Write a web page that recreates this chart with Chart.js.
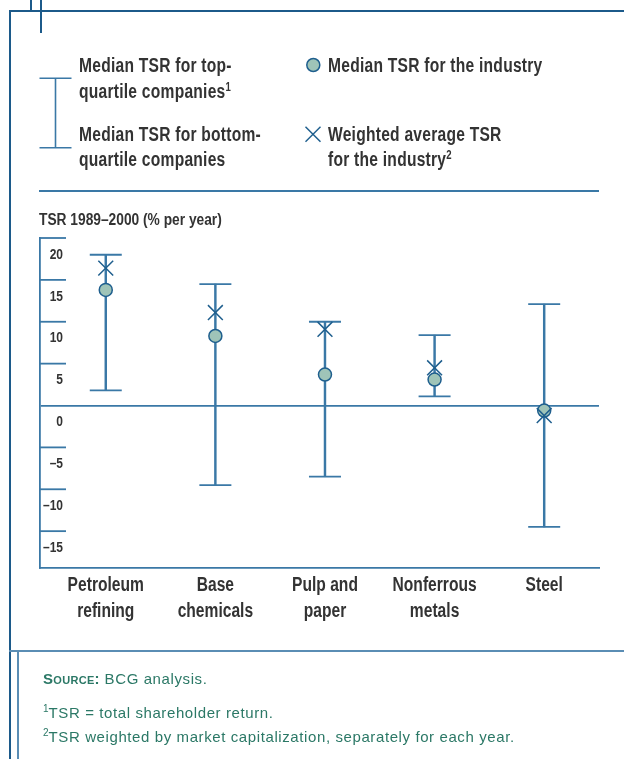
<!DOCTYPE html>
<html>
<head>
<meta charset="utf-8">
<script src="https://cdn.jsdelivr.net/npm/chart.js@4.4.1/dist/chart.umd.min.js"></script>
<style>
  body { margin: 0; background: #fff; }
  #page { position: relative; width: 624px; height: 759px; overflow: hidden; }
  #chart { position: absolute; left: 0; top: 0; }
  .line { position: absolute; background: #1c5a8a; }
  .narrow { font-family: "Liberation Sans", Arial, sans-serif; font-weight: bold; color: #333;
            transform: scaleX(0.8); transform-origin: 0 50%; }
  .lg { position: absolute; font-size: 19.5px; letter-spacing: 0.3px; white-space: nowrap; }
  .sup { font-size: 12px; position: relative; top: -7px; }
  .note { position: absolute; left: 43px; font-family: "Liberation Sans", Arial, sans-serif; font-size: 15px;
          letter-spacing: 0.6px; color: #2b7866; white-space: nowrap; }
  .note .sup { font-size: 10px; top: -6px; letter-spacing: 0; }
</style>
</head>
<body>
<div id="page">
  <canvas id="chart" width="624" height="759"></canvas>

  <!-- frame -->
  <div class="line" style="left:9px; top:10px; width:615px; height:1.5px;"></div>
  <div class="line" style="left:9px; top:10px; width:1.5px; height:749px;"></div>
  <div class="line" style="left:30px; top:0; width:1.5px; height:10px;"></div>
  <div class="line" style="left:40px; top:0; width:1.5px; height:33px;"></div>
  <div class="line" style="left:39px; top:190px; width:560px; height:1.5px; background:#3a78a6;"></div>
  <div class="line" style="left:9px; top:650px; width:615px; height:2px; background:#5a8db4;"></div>
  <div class="line" style="left:17px; top:650px; width:2px; height:109px; background:#5a8db4;"></div>

  <!-- legend -->
  <svg style="position:absolute; left:38px; top:76px;" width="36" height="74">
    <g stroke="#3a78a6" stroke-width="1.6" fill="none">
      <line x1="1.5" y1="2.3" x2="33.5" y2="2.3"/>
      <line x1="1.5" y1="71.7" x2="33.5" y2="71.7"/>
      <line x1="17.5" y1="2.3" x2="17.5" y2="71.7"/>
    </g>
  </svg>
  <div class="lg narrow" style="left:79px; top:52px; line-height:26px;">Median TSR for top-<br>quartile companies<span class="sup">1</span></div>
  <div class="lg narrow" style="left:79px; top:122px; line-height:25px;">Median TSR for bottom-<br>quartile companies</div>
  <svg style="position:absolute; left:303px; top:55px;" width="20" height="20">
    <circle cx="10.3" cy="10" r="6.5" fill="#9fc4b8" stroke="#1f5f8e" stroke-width="1.5"/>
  </svg>
  <div class="lg narrow" style="left:328px; top:52px; line-height:26px;">Median TSR for the industry</div>
  <svg style="position:absolute; left:303px; top:124px;" width="20" height="20">
    <g stroke="#1f5f8e" stroke-width="1.5">
      <line x1="2.5" y1="2.8" x2="17.5" y2="17.8"/>
      <line x1="17.5" y1="2.8" x2="2.5" y2="17.8"/>
    </g>
  </svg>
  <div class="lg narrow" style="left:328px; top:122px; line-height:25px;">Weighted average TSR<br>for the industry<span class="sup">2</span></div>

  <!-- axis title -->
  <div class="narrow" style="position:absolute; left:39px; top:210px; font-size:16px; line-height:20px; white-space:nowrap; transform:scaleX(0.86);">TSR 1989–2000 (% per year)</div>

  <!-- notes -->
  <div class="note" style="top:669px; line-height:20px;"><b style="font-variant:small-caps; letter-spacing:0.3px;">Source:</b> BCG analysis.</div>
  <div class="note" style="top:703px; line-height:20px;"><span class="sup">1</span>TSR = total shareholder return.</div>
  <div class="note" style="top:727px; line-height:20px;"><span class="sup">2</span>TSR weighted by market capitalization, separately for each year.</div>
</div>

<script>
// ================= DATA =================
const categories = [["Petroleum", "refining"], ["Base", "chemicals"], ["Pulp and", "paper"], ["Nonferrous", "metals"], ["Steel"]];
const topQuartile = [18.0, 14.5, 10.0, 8.4, 12.1];
const bottomQuartile = [1.8, -9.5, -8.5, 1.1, -14.5];
const industryMedian = [13.8, 8.3, 3.7, 3.1, -0.6];
const weightedAverage = [16.4, 11.1, 9.1, 4.5, -1.2];
const yTicks = [20, 15, 10, 5, 0, -5, -10, -15];

const lineBlue = "#3a78a6";
const darkBlue = "#1f5f8e";
const labelFont = "'Liberation Sans', Arial, sans-serif";

// no condensed face installed: squeeze canvas text horizontally around its anchor
const canvas = document.getElementById("chart");
const ctx2d = canvas.getContext("2d");
const rawFillText = ctx2d.fillText;
ctx2d.fillText = function (text, x, y) {
    this.save();
    this.translate(x, y);
    this.scale(0.8, 1);
    rawFillText.call(this, text, 0, 0);
    this.restore();
};

// short tick stubs on the inside of the y axis
const stubs = {
    id: "stubs",
    beforeDatasetsDraw(chart) {
        const { ctx, chartArea, scales: { y } } = chart;
        ctx.save();
        ctx.strokeStyle = lineBlue;
        ctx.lineWidth = 1.8;
        yTicks.forEach(v => {
            if (v === 0) return;
            const py = y.getPixelForValue(v);
            ctx.beginPath();
            ctx.moveTo(chartArea.left, py);
            ctx.lineTo(chartArea.left + 26, py);
            ctx.stroke();
        });
        ctx.restore();
    }
};

const idx = categories.map((c, i) => i);

new Chart(canvas, {
    type: "scatter",
    data: {
        datasets: [
            {
                type: "bar",
                data: idx.map(i => ({ x: i, y: [bottomQuartile[i], topQuartile[i]] })),
                backgroundColor: lineBlue,
                barThickness: 1.8,
                order: 4
            },
            {
                data: idx.flatMap(i => [{ x: i, y: topQuartile[i] }, { x: i, y: bottomQuartile[i] }]),
                pointStyle: "line",
                pointRadius: 16,
                pointBorderWidth: 1.8,
                borderColor: lineBlue,
                order: 3
            },
            {
                data: idx.map(i => ({ x: i, y: industryMedian[i] })),
                pointStyle: "circle",
                pointRadius: 6.5,
                pointBorderWidth: 1.5,
                backgroundColor: "#9fc4b8",
                borderColor: darkBlue,
                order: 2
            },
            {
                data: idx.map(i => ({ x: i, y: weightedAverage[i] })),
                pointStyle: "crossRot",
                pointRadius: 10.5,
                pointBorderWidth: 1.5,
                borderColor: darkBlue,
                order: 1
            }
        ]
    },
    options: {
        responsive: false,
        animation: false,
        events: [],
        layout: { padding: { left: 40, top: 238, right: 25, bottom: 131 } },
        plugins: { legend: { display: false }, tooltip: { enabled: false } },
        scales: {
            x: {
                type: "linear",
                min: -0.6,
                max: 4.5,
                offset: false,
                afterBuildTicks: s => { s.ticks = idx.map(i => ({ value: i })); },
                afterFit: s => { s.height = 60; },
                grid: { display: false, offset: false },
                border: { display: true, color: lineBlue, width: 1.8 },
                ticks: {
                    autoSkip: false,
                    maxRotation: 0,
                    padding: -3,
                    color: "#333",
                    font: { family: labelFont, size: 19.5, weight: "bold", lineHeight: 1.33 },
                    callback: v => categories[v]
                }
            },
            y: {
                min: -19.4,
                max: 20,
                afterBuildTicks: s => { s.ticks = yTicks.map(v => ({ value: v })); },
                afterFit: s => { s.width = 0; },
                border: { display: true, color: lineBlue, width: 1.8 },
                grid: {
                    drawTicks: false,
                    lineWidth: 1.8,
                    color: c => (c.tick && c.tick.value === 0 ? lineBlue : "rgba(0,0,0,0)")
                },
                ticks: {
                    mirror: true,
                    crossAlign: "far",
                    padding: -2,
                    labelOffset: 16.5,
                    color: "#333",
                    font: { family: labelFont, size: 15, weight: "bold" },
                    callback: v => (v < 0 ? "\u2013" + Math.abs(v) : String(v))
                }
            }
        }
    },
    plugins: [stubs]
});
</script>
</body>
</html>
